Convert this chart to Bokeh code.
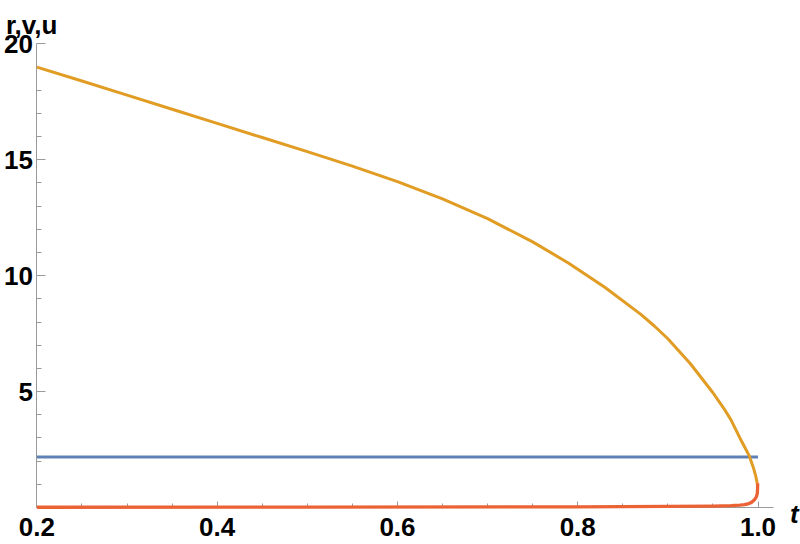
from bokeh.plotting import figure
from bokeh.models import Range1d, FixedTicker, CustomJSTickFormatter, Label
from bokeh.embed import file_html
from bokeh.resources import INLINE

# ---------------- data ----------------
r_t = [0.2, 1.0]
r_vals = [2.18, 2.18]

v_t = [0.20, 0.25, 0.30, 0.35, 0.40, 0.45, 0.50, 0.55, 0.60, 0.65, 0.70,
       0.75, 0.79, 0.83, 0.87, 0.885, 0.90, 0.925, 0.95, 0.962, 0.97, 0.98,
       0.985, 0.99, 0.995, 0.9975, 0.9992]
v_vals = [19.00, 18.40, 17.79, 17.18, 16.57, 15.96, 15.35, 14.73, 14.06, 13.31,
          12.46, 11.46, 10.54, 9.50, 8.33, 7.83, 7.28, 6.20, 4.95, 4.28, 3.78,
          2.99, 2.62, 2.25, 1.70, 1.35, 1.02]

u_t = [0.20, 0.50, 0.80, 0.90, 0.95, 0.97, 0.98, 0.985, 0.99, 0.993, 0.996,
       0.998, 0.9992, 0.9995, 0.9996]
u_vals = [0.01, 0.02, 0.03, 0.045, 0.06, 0.08, 0.10, 0.12, 0.17, 0.23, 0.33,
          0.45, 0.60, 0.80, 1.05]

x_major = [0.2, 0.4, 0.6, 0.8, 1.0]
x_minor = [0.25, 0.3, 0.35, 0.45, 0.5, 0.55, 0.65, 0.7, 0.75, 0.85, 0.9, 0.95]
y_major = [5, 10, 15, 20]
y_minor = [1, 2, 3, 4, 6, 7, 8, 9, 11, 12, 13, 14, 16, 17, 18, 19]

x_axis_span = (0.2, 1.0167)
y_axis_span = (0, 20)

y_title = "r,v,u"
x_title = "t"

# ---------------- layout ----------------
W, H = 800, 544
x_px_per_unit = 901.4
x_origin_px = 36.4
y_px_per_unit = 23.18
y_origin_px = 507.0  # from top

x0 = 0.2 - x_origin_px / x_px_per_unit
x1 = x0 + W / x_px_per_unit
y1 = y_origin_px / y_px_per_unit
y0 = -(H - y_origin_px) / y_px_per_unit

p = figure(width=W, height=H, output_backend="svg", toolbar_location=None,
           x_range=Range1d(x0, x1), y_range=Range1d(y0, y1), title=None,
           min_border=0)
p.min_border_left = 0
p.min_border_right = 0
p.min_border_top = 0
p.min_border_bottom = 0
p.outline_line_color = None
p.xgrid.visible = False
p.ygrid.visible = False
p.background_fill_color = "white"
p.border_fill_color = "white"

axis_col = "#9a9a9a"
font = "Liberation Sans"
fsize = "26px"

xa = p.xaxis[0]
xa.fixed_location = 0
xa.bounds = x_axis_span
xa.ticker = FixedTicker(ticks=x_major, minor_ticks=x_minor)
xa.formatter = CustomJSTickFormatter(code="return tick.toFixed(1);")
xa.axis_line_color = axis_col
xa.major_tick_line_color = axis_col
xa.minor_tick_line_color = axis_col
xa.major_tick_out = 0
xa.major_tick_in = 6
xa.minor_tick_out = 0
xa.minor_tick_in = 4
xa.major_label_standoff = 10
xa.major_label_text_font = font
xa.major_label_text_font_style = "bold"
xa.major_label_text_font_size = fsize
xa.major_label_text_color = "black"
xa.level = "underlay"

ya = p.yaxis[0]
ya.fixed_location = 0.2
ya.bounds = y_axis_span
ya.ticker = FixedTicker(ticks=y_major, minor_ticks=y_minor)
ya.axis_line_color = axis_col
ya.major_tick_line_color = axis_col
ya.minor_tick_line_color = axis_col
ya.major_tick_out = 0
ya.major_tick_in = 9
ya.minor_tick_out = 0
ya.minor_tick_in = 5
ya.major_label_standoff = 4
ya.major_label_text_font = font
ya.major_label_text_font_style = "bold"
ya.major_label_text_font_size = fsize
ya.major_label_text_color = "black"
ya.level = "underlay"

p.line(r_t, r_vals, line_color="#5E81B5", line_width=3)
p.line(v_t, v_vals, line_color="#E19C24", line_width=3, line_join="round")
p.line(u_t, u_vals, line_color="#EB6235", line_width=3.3, line_join="round")

p.add_layout(Label(x=0.2, y=20, x_offset=-31, y_offset=19, text=y_title,
                   text_font=font, text_font_style="bold", text_font_size=fsize,
                   text_baseline="alphabetic", text_align="left", text_color="black"))
p.add_layout(Label(x=x_axis_span[1], y=0, x_offset=17, y_offset=-6, text=x_title,
                   text_font=font, text_font_style="bold italic", text_font_size=fsize,
                   text_baseline="alphabetic", text_align="left", text_color="black"))

open("out.html", "w").write(file_html(p, INLINE))
